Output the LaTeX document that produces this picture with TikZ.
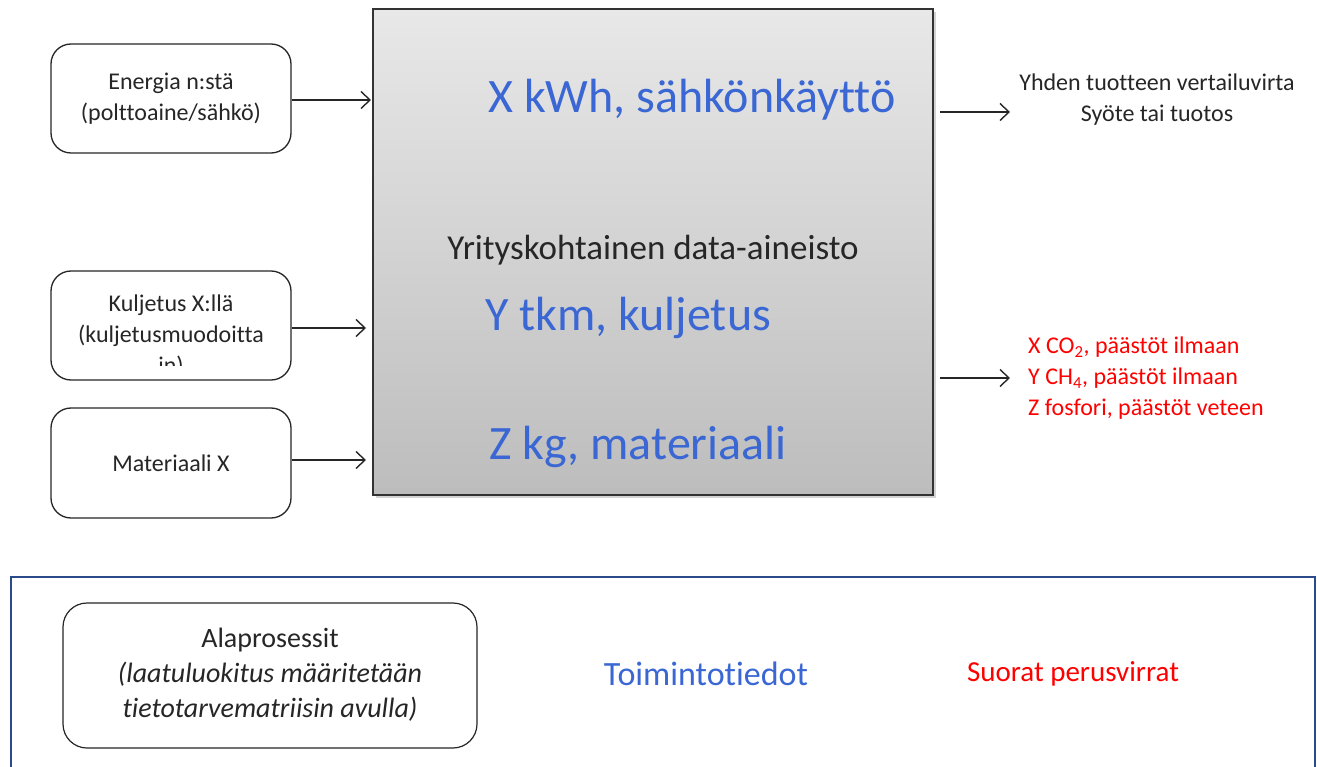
\documentclass[tikz,border=0pt]{standalone}
\usepackage{fontspec}
\setmainfont{Carlito}[Ligatures=NoCommon]
\usetikzlibrary{arrows.meta,shadows}
\definecolor{flowblue}{HTML}{3A67D4}
\definecolor{flowred}{HTML}{FF0000}
\definecolor{frameblue}{HTML}{2B4A8C}
\tikzset{
  inbox/.style={draw=black!85,line width=1.3pt,rounded corners=20pt,fill=white},
  flow/.style={-{Straight Barb[length=9pt,width=17pt]},line width=1.4pt,black!85},
  small/.style={font=\fontsize{24}{31}\selectfont,align=center,inner sep=0pt,text=black!85},
  big/.style={font=\fontsize{48}{52}\selectfont,text=flowblue,inner sep=0pt},
  redlist/.style={font=\fontsize{24}{31}\selectfont,align=left,inner sep=0pt,text=flowred},
}
\begin{document}
\begin{tikzpicture}[x=1pt,y=-1pt]
\useasboundingbox (0,0) rectangle (1317,767);
% central process box
\draw[line width=1.6pt,draw=black!80,top color=black!9,bottom color=black!26,
  drop shadow={shadow xshift=3pt,shadow yshift=-3pt,opacity=0.35}]
  (373,9) rectangle (933,495);
\coordinate (pin1) at (371,100);
\coordinate (pin2) at (366,328);
\coordinate (pin3) at (366,460);
\coordinate (pout1) at (940,112);
\coordinate (pout2) at (940,378);
\node[big] (kwh) at (692,100) {X kWh, sähkönkäyttö};
\node[small,font=\fontsize{35}{40}\selectfont] (data) at (653,250) {Yrityskohtainen data-aineisto};
\node[big] (tkm) at (628,318) {Y tkm, kuljetus};
\node[big] (kg) at (638,447) {Z kg, materiaali};
% input boxes
\draw[inbox] (51,44) rectangle (291,153);
\node[small] (energia) at (171,99) {Energia n:stä\\(polttoaine/sähkö)};
\draw[inbox] (51,271) rectangle (291,380);
\begin{scope}
  \clip (52,272) rectangle (290,365);
  \node[small] (kuljetus) at (171,336) {Kuljetus X:llä\\(kuljetusmuodoitta\\in)};
\end{scope}
\draw[inbox] (51,408) rectangle (291,518);
\node[small] (materiaali) at (171,463) {Materiaali X};
\coordinate (e1) at (292,100);
\coordinate (e2) at (292,328);
\coordinate (e3) at (292,460);
\draw[flow] (e1) -- (pin1);
\draw[flow] (e2) -- (pin2);
\draw[flow] (e3) -- (pin3);
% outputs
\node[small] (vertailu) at (1157,100) {Yhden tuotteen vertailuvirta\\Syöte tai tuotos};
\coordinate (t1) at (1010,112);
\coordinate (t2) at (1010,378);
\draw[flow] (pout1) -- (t1);
\draw[flow] (pout2) -- (t2);
\node[redlist,anchor=west] (paastot) at (1028,378)
  {X CO\textsubscript{2}, päästöt ilmaan\\Y CH\textsubscript{4}, päästöt ilmaan\\Z fosfori, päästöt veteen};
% legend frame
\draw[frameblue,line width=1.3pt,fill=white,
  drop shadow={shadow xshift=0pt,shadow yshift=-2pt,opacity=0.15}]
  (11,577) rectangle (1315,790);
\draw[inbox,line width=1.2pt,rounded corners=24pt] (63,603) rectangle (477,748);
\node[small,font=\fontsize{28}{35}\selectfont] (ala) at (270,675)
  {Alaprosessit\\\textit{(laatuluokitus määritetään}\\\textit{tietotarvematriisin avulla)}};
\node[small,font=\fontsize{34}{38}\selectfont,text=flowblue] (toim) at (706,674) {Toimintotiedot};
\node[small,font=\fontsize{29}{32}\selectfont,text=flowred] (suorat) at (1073,674) {Suorat perusvirrat};
\end{tikzpicture}
\end{document}
